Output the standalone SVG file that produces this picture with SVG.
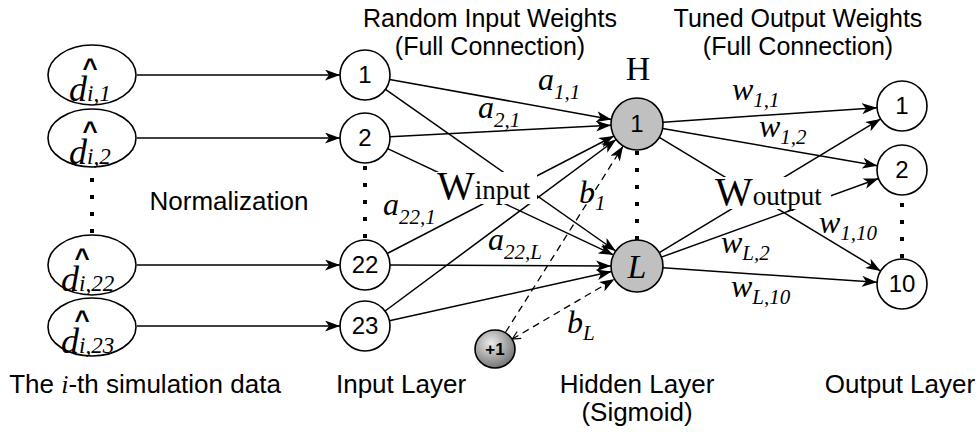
<svg xmlns="http://www.w3.org/2000/svg" width="980" height="432" viewBox="0 0 980 432">
<defs>
<style>
.node{fill:#fff;stroke:#000;stroke-width:1.6}
.hid{fill:#c0c0c0;stroke:#000;stroke-width:1.6}
.edge{fill:none;stroke:#000;stroke-width:1.5}
.dash{fill:none;stroke:#000;stroke-width:1.3;stroke-dasharray:7 5}
.dots{fill:none;stroke:#000;stroke-width:4;stroke-dasharray:4 13}
.sans{font-family:"Liberation Sans",Arial,sans-serif;fill:#000}
.serif{font-family:"Liberation Serif","Times New Roman",serif;fill:#000}
.it{font-style:italic}
.num{font-family:"Liberation Sans",Arial,sans-serif;font-size:24px;text-anchor:middle;fill:#000}
.lbl{font-size:25px}
.blbl{font-size:26px}
.mid{text-anchor:middle}
.m{font-size:32px}
.s{font-size:21px}
.bg{fill:#fff;stroke:none}
</style>
<marker id="arr" markerWidth="15" markerHeight="11" refX="15" refY="5.5" orient="auto" markerUnits="userSpaceOnUse" viewBox="0 0 15 11"><path d="M0,0 L15,5.5 L0,11 L4,5.5 Z" fill="#000"/></marker>
<marker id="open" markerWidth="10" markerHeight="10" refX="9" refY="5" orient="auto-start-reverse" markerUnits="userSpaceOnUse" viewBox="0 0 10 10"><path d="M1,1 L9,5 L1,9" fill="none" stroke="#000" stroke-width="1.2"/></marker>
<radialGradient id="gp" cx="40%" cy="35%" r="70%"><stop offset="0" stop-color="#ececec"/><stop offset="1" stop-color="#6e6e6e"/></radialGradient>
</defs>

<g id="connectors">
  <line class="edge" x1="137" y1="75" x2="340" y2="75" marker-end="url(#arr)"/>
  <line class="edge" x1="137" y1="138" x2="340" y2="138" marker-end="url(#arr)"/>
  <line class="edge" x1="137" y1="265" x2="340" y2="265" marker-end="url(#arr)"/>
  <line class="edge" x1="137" y1="326" x2="340" y2="326" marker-end="url(#arr)"/>
  <line class="edge" x1="389.6" y1="79.4" x2="611.4" y2="119.4" marker-end="url(#arr)"/>
  <line class="edge" x1="385.5" y1="89.4" x2="615.7" y2="251" marker-end="url(#arr)"/>
  <line class="edge" x1="390" y1="136.7" x2="611" y2="125.3" marker-end="url(#arr)"/>
  <line class="edge" x1="387.6" y1="148.6" x2="613.5" y2="254.9" marker-end="url(#arr)"/>
  <line class="edge" x1="387.2" y1="253.5" x2="613.9" y2="136" marker-end="url(#arr)"/>
  <line class="edge" x1="390" y1="265" x2="611" y2="266" marker-end="url(#arr)"/>
  <line class="edge" x1="385.1" y1="311" x2="616.1" y2="139.5" marker-end="url(#arr)"/>
  <line class="edge" x1="389.4" y1="320.7" x2="611.6" y2="271.5" marker-end="url(#arr)"/>
  <line class="dash" x1="505.7" y1="332" x2="623.1" y2="146" marker-end="url(#arr)"/>
  <line class="dash" x1="512.3" y1="339" x2="614.6" y2="279.1" marker-start="url(#open)" marker-end="url(#arr)"/>
  <line class="edge" x1="663" y1="122.2" x2="877" y2="107.7" marker-end="url(#arr)"/>
  <line class="edge" x1="662.6" y1="128.4" x2="877.4" y2="165.7" marker-end="url(#arr)"/>
  <line class="edge" x1="659.3" y1="137.4" x2="880.6" y2="271.1" marker-end="url(#arr)"/>
  <line class="edge" x1="659.3" y1="252.6" x2="880.6" y2="118.9" marker-end="url(#arr)"/>
  <line class="edge" x1="661.4" y1="257.1" x2="878.5" y2="178.5" marker-end="url(#arr)"/>
  <line class="edge" x1="663" y1="267.8" x2="877" y2="282.3" marker-end="url(#arr)"/>
  <line class="dots" x1="92" y1="178" x2="92" y2="236"/>
  <line class="dots" x1="365" y1="166" x2="365" y2="241"/>
  <line class="dots" x1="637" y1="151" x2="637" y2="241"/>
  <line class="dots" x1="902" y1="203" x2="902" y2="260"/>
</g>

<g id="edge-labels">
  <rect class="bg" x="435" y="172" width="102" height="32"/>
  <text class="serif" x="437" y="199"><tspan font-size="40">W</tspan><tspan font-size="27">input</tspan></text>
  <rect class="bg" x="713" y="177" width="118" height="32"/>
  <text class="serif" x="715" y="205"><tspan font-size="40">W</tspan><tspan font-size="27">output</tspan></text>
  <text class="serif it" x="538" y="90"><tspan class="m">a</tspan><tspan class="s" dy="9">1,1</tspan></text>
  <text class="serif it" x="478" y="118"><tspan class="m">a</tspan><tspan class="s" dy="9">2,1</tspan></text>
  <text class="serif it" x="383" y="215"><tspan class="m">a</tspan><tspan class="s" dy="9">22,1</tspan></text>
  <text class="serif it" x="488" y="250"><tspan class="m">a</tspan><tspan class="s" dy="9">22,L</tspan></text>
  <text class="serif it" x="579" y="203"><tspan class="m">b</tspan><tspan class="s" dy="7">1</tspan></text>
  <text class="serif it" x="567" y="333"><tspan class="m">b</tspan><tspan class="s" dy="7">L</tspan></text>
  <text class="serif it" x="732" y="100"><tspan class="m">w</tspan><tspan class="s" dy="7">1,1</tspan></text>
  <text class="serif it" x="759" y="137"><tspan class="m">w</tspan><tspan class="s" dy="7">1,2</tspan></text>
  <text class="serif it" x="819" y="233"><tspan class="m">w</tspan><tspan class="s" dy="7">1,10</tspan></text>
  <text class="serif it" x="721" y="253"><tspan class="m">w</tspan><tspan class="s" dy="7">L,2</tspan></text>
  <text class="serif it" x="731" y="297"><tspan class="m">w</tspan><tspan class="s" dy="7">L,10</tspan></text>
</g>

<g id="data1">
  <ellipse class="node" cx="92" cy="75" rx="44" ry="30"/>
  <text class="sans" x="90" y="77" font-size="26" font-weight="bold" text-anchor="middle">^</text>
  <text class="serif it" x="69" y="101"><tspan font-size="36">d</tspan><tspan font-size="23">i,1</tspan></text>
</g>
<g id="data2">
  <ellipse class="node" cx="92" cy="138" rx="44" ry="29"/>
  <text class="sans" x="90" y="140" font-size="26" font-weight="bold" text-anchor="middle">^</text>
  <text class="serif it" x="69" y="164"><tspan font-size="36">d</tspan><tspan font-size="23">i,2</tspan></text>
</g>
<g id="data22">
  <ellipse class="node" cx="92" cy="265" rx="44" ry="30"/>
  <text class="sans" x="82" y="267" font-size="26" font-weight="bold" text-anchor="middle">^</text>
  <text class="serif it" x="61" y="291"><tspan font-size="36">d</tspan><tspan font-size="23">i,22</tspan></text>
</g>
<g id="data23">
  <ellipse class="node" cx="92" cy="327" rx="44" ry="29"/>
  <text class="sans" x="82" y="329" font-size="26" font-weight="bold" text-anchor="middle">^</text>
  <text class="serif it" x="61" y="353"><tspan font-size="36">d</tspan><tspan font-size="23">i,23</tspan></text>
</g>

<g id="in1"><circle class="node" cx="365" cy="75" r="25"/><text class="num" x="365" y="83">1</text></g>
<g id="in2"><circle class="node" cx="365" cy="138" r="25"/><text class="num" x="365" y="146">2</text></g>
<g id="in22"><circle class="node" cx="365" cy="265" r="25"/><text class="num" x="365" y="273">22</text></g>
<g id="in23"><circle class="node" cx="365" cy="326" r="25"/><text class="num" x="365" y="334">23</text></g>

<g id="h1"><circle class="hid" cx="637" cy="124" r="26"/><text class="num" x="637" y="132">1</text></g>
<g id="hL"><circle class="hid" cx="637" cy="266" r="26"/><text class="serif it" x="637" y="278" font-size="34" text-anchor="middle">L</text></g>

<g id="bias"><ellipse cx="495" cy="349" rx="20" ry="19" fill="url(#gp)" stroke="#000" stroke-width="1.6"/><text class="sans" x="495" y="355" font-size="17" font-weight="bold" text-anchor="middle">+1</text></g>

<g id="out1"><circle class="node" cx="902" cy="106" r="25"/><text class="num" x="902" y="114">1</text></g>
<g id="out2"><circle class="node" cx="902" cy="170" r="25"/><text class="num" x="902" y="178">2</text></g>
<g id="out10"><circle class="node" cx="902" cy="284" r="25"/><text class="num" x="902" y="292">10</text></g>

<g id="labels">
  <text class="sans lbl mid" x="490" y="27">Random Input Weights</text>
  <text class="sans lbl mid" x="490" y="55">(Full Connection)</text>
  <text class="sans lbl mid" x="798" y="27">Tuned Output Weights</text>
  <text class="sans lbl mid" x="798" y="55">(Full Connection)</text>
  <text class="serif mid" x="638" y="80" font-size="34">H</text>
  <text class="sans blbl mid" x="229" y="210">Normalization</text>
  <text class="sans blbl mid" x="145" y="393">The <tspan class="serif it">i</tspan>-th simulation data</text>
  <text class="sans blbl mid" x="401" y="393">Input Layer</text>
  <text class="sans blbl mid" x="637" y="393">Hidden Layer</text>
  <text class="sans blbl mid" x="637" y="421">(Sigmoid)</text>
  <text class="sans blbl mid" x="900" y="393">Output Layer</text>
</g>
</svg>
